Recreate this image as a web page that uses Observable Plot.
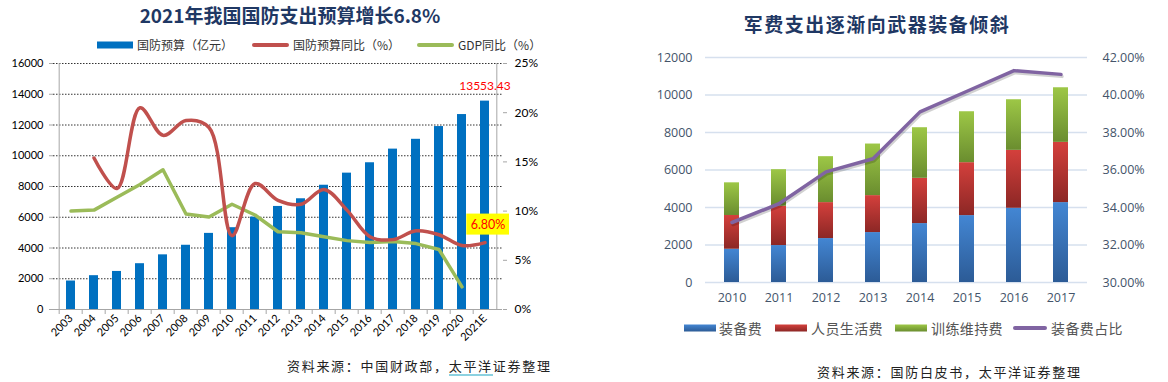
<!DOCTYPE html>
<html><head><meta charset="utf-8">
<script src="https://cdn.jsdelivr.net/npm/d3@7"></script>
<script src="https://cdn.jsdelivr.net/npm/@observablehq/plot@0.6"></script>
<style>
body{margin:0;background:#fff;}
#root{position:relative;width:1168px;height:382px;overflow:hidden;font-family:"Noto Sans CJK SC",sans-serif;background:#fff;}
.abs{position:absolute;white-space:nowrap;}
.title{font-weight:700;font-size:19px;color:#1F3864;transform:translate(-50%,-50%);line-height:1;}
.src{font-size:13px;color:#222;letter-spacing:1.7px;transform:translateY(-50%);line-height:1;}
.lg{font-size:12px;color:#333;transform:translateY(-50%);line-height:1;}
.lg2{font-size:14px;color:#555;letter-spacing:0.4px;transform:translateY(-50%);line-height:1;}
.sw{position:absolute;transform:translateY(-50%);}
.ul{border-bottom:1.5px solid #1AA3C2;}
</style></head><body>
<svg width="0" height="0" style="position:absolute">
<defs>
<linearGradient id="gBlue" x1="0" y1="0" x2="0" y2="1"><stop offset="0" stop-color="#4386D3"/><stop offset="1" stop-color="#2C5B96"/></linearGradient>
<linearGradient id="gRed" x1="0" y1="0" x2="0" y2="1"><stop offset="0" stop-color="#D4403C"/><stop offset="1" stop-color="#8C2725"/></linearGradient>
<linearGradient id="gGreen" x1="0" y1="0" x2="0" y2="1"><stop offset="0" stop-color="#9DC746"/><stop offset="1" stop-color="#6A8D2F"/></linearGradient>
</defs></svg>
<div id="root"></div>
<script>
// ---------- Data: left chart ----------
const years = ["2003","2004","2005","2006","2007","2008","2009","2010","2011","2012","2013","2014","2015","2016","2017","2018","2019","2020","2021E"];
const budget = [1853, 2200, 2475, 2979, 3555, 4178, 4951, 5321, 6011, 6703, 7202, 8082, 8869, 9544, 10432, 11070, 11899, 12680, 13553.43];
const budgetYoY = [null, 15.4, 12.3, 20.5, 17.7, 19.2, 18.5, 7.5, 12.8, 11.1, 10.7, 12.2, 10.1, 7.4, 7.1, 8.0, 7.6, 6.5, 6.8];
const gdpYoY = [10.0, 10.1, 11.4, 12.7, 14.2, 9.7, 9.4, 10.7, 9.6, 7.9, 7.8, 7.4, 7.0, 6.8, 6.9, 6.7, 6.1, 2.3, null];
const amtTicks = [0, 2000, 4000, 6000, 8000, 10000, 12000, 14000, 16000];
const pctTicks = [0, 5, 10, 15, 20, 25];
const leftTitle = "2021年我国国防支出预算增长6.8%";
const leftLegend = ["国防预算（亿元）", "国防预算同比（%）", "GDP同比（%）"];
const leftSource = ["资料来源：中国财政部，", "太平洋", "证券整理"];

// ---------- Data: right chart ----------
const years2 = ["2010","2011","2012","2013","2014","2015","2016","2017"];
const equip = [1774, 1971, 2343, 2663, 3142, 3568, 3959, 4261];
const personnel = [1800, 2094, 1918, 1971, 2415, 2823, 3089, 3213];
const training = [1742, 1953, 2450, 2751, 2698, 2716, 2699, 2912];
const equipShare = [33.2, 34.2, 35.9, 36.6, 39.1, 40.2, 41.3, 41.1];
const amtTicks2 = [0, 2000, 4000, 6000, 8000, 10000, 12000];
const pctTicks2 = [30, 32, 34, 36, 38, 40, 42];
const series2 = ["装备费", "人员生活费", "训练维持费"];
const lineName2 = "装备费占比";
const rightTitle = "军费支出逐渐向武器装备倾斜";
const rightSource = "资料来源：国防白皮书，太平洋证券整理";

const root = document.getElementById("root");
function el(cls, text, x, y, extra) {
  const d = document.createElement("div");
  d.className = "abs " + cls;
  d.style.left = x + "px"; d.style.top = y + "px";
  if (text != null) d.textContent = text;
  if (extra) Object.assign(d.style, extra);
  root.appendChild(d);
  return d;
}

// ---------- Left chart ----------
const L = {w: 545, h: 310, ml: 53, mr: 43, mt: 13, mb: 51, left: 0, top: 50};
const K = 16000 / 25;
const stepL = (L.w - L.ml - L.mr) / years.length;
const rows = years.map((y, i) => ({year: y, budget: budget[i], yoy: budgetYoY[i], gdp: gdpYoY[i]}));
const last = rows.slice(-1);

const left = Plot.plot({
  width: L.w, height: L.h,
  marginLeft: L.ml, marginRight: L.mr, marginTop: L.mt, marginBottom: L.mb,
  style: {fontFamily: 'Lato, "Liberation Sans", sans-serif', fontSize: "11px", color: "#000", background: "transparent", overflow: "visible"},
  x: {type: "band", domain: years, paddingInner: 0.6, paddingOuter: 0.3, axis: null},
  y: {domain: [0, 16000], axis: null},
  marks: [
    Plot.ruleY(amtTicks.filter(d => d > 0), {stroke: "#333", strokeDasharray: "1.5,1.5"}),
    Plot.barY(rows, {x: "year", y: "budget", fill: "#0070C0"}),
    Plot.ruleY([0], {stroke: "#A6A6A6"}),
    Plot.ruleX([years[0]], {dx: -stepL / 2, stroke: "#A6A6A6"}),
    Plot.ruleX([years[years.length - 1]], {dx: stepL / 2, stroke: "#A6A6A6"}),
    Plot.axisX({tickSize: 5, tickFormat: () => "", dx: -stepL / 2, stroke: "#A6A6A6", label: null}),
    Plot.axisX({tickSize: 0, tickPadding: 7, tickRotate: -45, fontSize: 11, fill: "#000", label: null}),
    Plot.axisY({ticks: amtTicks, tickFormat: d => String(d), tickSize: 4, tickPadding: 6, stroke: "#A6A6A6", fill: "#000", label: null}),
    Plot.axisY({anchor: "right", ticks: pctTicks.map(v => v * K), tickFormat: d => Math.round(d / K) + "%", tickSize: 4, tickPadding: 8, stroke: "#A6A6A6", fill: "#000", fontSize: 12, label: null}),
    Plot.lineY(rows.filter(d => d.gdp != null), {x: "year", y: d => d.gdp * K, stroke: "#9BBB59", strokeWidth: 3.5}),
    Plot.lineY(rows.filter(d => d.yoy != null), {x: "year", y: d => d.yoy * K, stroke: "#C0504D", strokeWidth: 3.5, curve: "catmull-rom"}),
    Plot.text(last, {x: "year", y: "budget", text: d => d.budget.toFixed(2), dy: -15, fill: "#FF0000", fontSize: 12}),
    Plot.barY(last, {x: "year", y1: d => d.yoy * K, y2: d => d.yoy * K, insetTop: -10.5, insetBottom: -10.5, insetLeft: -13.7, insetRight: -20, dy: -18, fill: "#FFFF00"}),
    Plot.text(last, {x: "year", y: d => d.yoy * K, text: d => d.yoy.toFixed(2) + "%", dy: -18, dx: 3, fill: "#FF0000", fontSize: 12.5})
  ]
});
left.style.position = "absolute";
left.style.left = L.left + "px"; left.style.top = L.top + "px";
root.appendChild(left);

el("title", leftTitle, 290, 14);
// left legend
el("sw", null, 97, 45, {width: "36px", height: "7px", background: "#0070C0"});
el("lg", leftLegend[0], 137, 45);
el("sw", null, 252, 45, {width: "37px", height: "4px", background: "#C0504D", borderRadius: "2px"});
el("lg", leftLegend[1], 293, 45);
el("sw", null, 417, 45, {width: "37px", height: "4px", background: "#9BBB59", borderRadius: "2px"});
el("lg", leftLegend[2], 458, 45);
// left source
const s1 = el("src", null, 287, 365);
s1.appendChild(document.createTextNode(leftSource[0]));
const u = document.createElement("span"); u.className = "ul"; u.textContent = leftSource[1]; s1.appendChild(u);
s1.appendChild(document.createTextNode(leftSource[2]));

// ---------- Right chart ----------
const R = {w: 548, h: 270, ml: 85, mr: 81, mt: 17, mb: 28, left: 620, top: 40};
const M = 1000; // 1 percentage point = 1000 units on the left scale, 30% at zero
const stacked = years2.flatMap((y, i) => [
  {year: y, series: series2[0], value: equip[i]},
  {year: y, series: series2[1], value: personnel[i]},
  {year: y, series: series2[2], value: training[i]}
]);
const shareRows = years2.map((y, i) => ({year: y, share: equipShare[i]}));
const tickColor = "#44546A";

const right = Plot.plot({
  width: R.w, height: R.h,
  marginLeft: R.ml, marginRight: R.mr, marginTop: R.mt, marginBottom: R.mb,
  style: {fontFamily: '"Open Sans", "Liberation Sans", sans-serif', fontSize: "12.5px", color: tickColor, background: "transparent", overflow: "visible"},
  x: {type: "band", domain: years2, paddingInner: 0.686, paddingOuter: 0.343, axis: null},
  y: {domain: [0, 12000], axis: null},
  color: {domain: series2, range: ["url(#gBlue)", "url(#gRed)", "url(#gGreen)"]},
  marks: [
    Plot.ruleY(amtTicks2, {stroke: "#D6E0EE", strokeWidth: 1.3}),
    Plot.barY(stacked, {x: "year", y: "value", fill: "series", order: series2}),
    Plot.lineY(shareRows, {x: "year", y: d => (d.share - 30) * M, stroke: "#000", strokeOpacity: 0.18, strokeWidth: 3.5, dx: 1, dy: 2}),
    Plot.lineY(shareRows, {x: "year", y: d => (d.share - 30) * M, stroke: "#8064A2", strokeWidth: 3.5}),
    Plot.axisX({tickSize: 0, tickPadding: 11, fill: tickColor, label: null}),
    Plot.axisY({ticks: amtTicks2, tickFormat: d => String(d), tickSize: 0, tickPadding: 13, fill: tickColor, label: null}),
    Plot.axisY({anchor: "right", ticks: pctTicks2.map(p => (p - 30) * M), tickFormat: d => (d / M + 30).toFixed(2) + "%", tickSize: 0, tickPadding: 15, fill: tickColor, label: null})
  ]
});
right.style.position = "absolute";
right.style.left = R.left + "px"; right.style.top = R.top + "px";
root.appendChild(right);

el("title", rightTitle, 877, 23, {letterSpacing: "1.5px"});
// right legend
const legY = 328;
el("sw", null, 684, legY, {width: "32px", height: "7px", background: "linear-gradient(#4386D3,#2C5B96)"});
el("lg2", series2[0], 719, legY);
el("sw", null, 775, legY, {width: "32px", height: "7px", background: "linear-gradient(#D4403C,#8C2725)"});
el("lg2", series2[1], 811, legY);
el("sw", null, 895, legY, {width: "32px", height: "7px", background: "linear-gradient(#9DC746,#6A8D2F)"});
el("lg2", series2[2], 931, legY);
el("sw", null, 1013, legY, {width: "34px", height: "4px", background: "#8064A2", borderRadius: "2px"});
el("lg2", lineName2, 1051, legY);
el("src", rightSource, 817, 371);
</script>
</body></html>
